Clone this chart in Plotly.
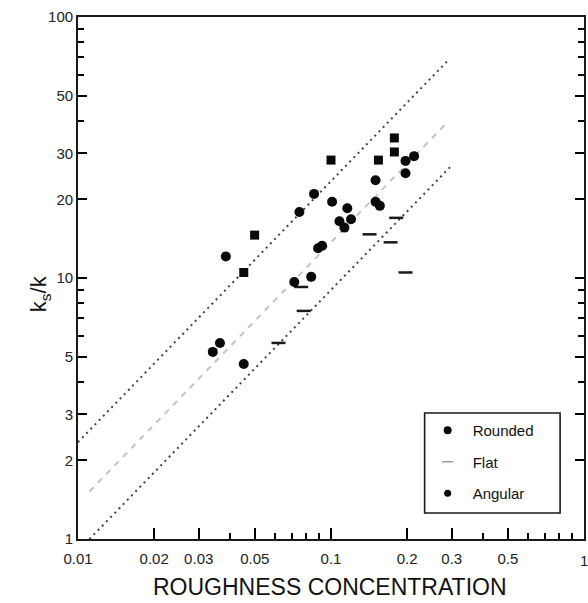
import plotly.graph_objects as go

# ---------------- data ----------------
rounded_x = [0.213, 0.197, 0.197, 0.150, 0.150, 0.156, 0.0857, 0.101, 0.116, 0.120,
             0.108, 0.113, 0.0750, 0.0889, 0.0922, 0.0835, 0.0716, 0.0384, 0.0364,
             0.0341, 0.0452]
rounded_y = [29.3, 28.1, 25.2, 23.7, 19.6, 18.9, 21.0, 19.6, 18.5, 16.8,
             16.5, 15.6, 17.9, 13.0, 13.3, 10.1, 9.65, 12.1, 5.64,
             5.21, 4.68]

angular_x = [0.100, 0.154, 0.178, 0.178, 0.0499, 0.0452]
angular_y = [28.3, 28.3, 34.4, 30.4, 14.6, 10.5]

flat_x = [0.142, 0.172, 0.181, 0.197, 0.0762, 0.078, 0.0620]
flat_y = [14.7, 13.7, 17.0, 10.5, 9.24, 7.48, 5.64]

# reference lines ks/k = c * lambda
line_coef = [235, 137, 90]
line_xmin = [0.0100, 0.0111, 0.0111]
line_xmax = [0.290, 0.290, 0.300]

x_tickvals = [0.01, 0.02, 0.03, 0.05, 0.1, 0.2, 0.3, 0.5, 1]
x_ticktext = ["0.01", "0.02", "0.03", "0.05", "0.1", "0.2", "0.3", "0.5", ""]
x_minor = [0.04, 0.06, 0.07, 0.08, 0.09, 0.4, 0.6, 0.7, 0.8, 0.9]
y_tickvals = [1, 2, 3, 5, 10, 20, 30, 50, 100]
y_ticktext = ["1", "2", "3", "5", "10", "20", "30", "50", "100"]
y_minor = [4, 6, 7, 8, 9, 40, 60, 70, 80, 90]

X_RANGE = [-2, 0]
Y_RANGE = [0, 2]

# ---------------- figure ----------------
W, H = 588, 603
ML, MR, MT, MB = 78, 2, 17, 64
pw, ph = W - ML - MR, H - MT - MB

def px2paper_x(px):
    return (px - ML) / pw

def px2paper_y(py):
    return (H - MB - py) / ph

fig = go.Figure()

line_styles = [dict(color="#444444", width=2, dash="2px,4px"),
               dict(color="#c4c4c4", width=2, dash="6px,6px"),
               dict(color="#444444", width=2, dash="2px,4px")]
for c, x0, x1, st in zip(line_coef, line_xmin, line_xmax, line_styles):
    fig.add_trace(go.Scatter(x=[x0, x1], y=[c * x0, c * x1], mode="lines",
                             line=st, showlegend=False, hoverinfo="skip"))

fig.add_trace(go.Scatter(x=flat_x, y=flat_y, mode="markers", showlegend=False,
                         marker=dict(symbol="line-ew", size=10,
                                     line=dict(width=2.5, color="#1a1a1a"))))
fig.add_trace(go.Scatter(x=rounded_x, y=rounded_y, mode="markers", showlegend=False,
                         marker=dict(symbol="circle", size=10, color="#0a0a0a")))
fig.add_trace(go.Scatter(x=angular_x, y=angular_y, mode="markers", showlegend=False,
                         marker=dict(symbol="square", size=9, color="#0a0a0a")))

# legend entries
fig.add_trace(go.Scatter(x=[None], y=[None], mode="markers", name="Rounded",
                         legendgroup="a",
                         marker=dict(symbol="circle", size=8, color="#0a0a0a")))
fig.add_trace(go.Scatter(x=[None], y=[None], mode="markers", name="Flat",
                         legendgroup="b",
                         marker=dict(symbol="line-ew", size=8,
                                     line=dict(width=1.5, color="#9a9a9a"))))
fig.add_trace(go.Scatter(x=[None], y=[None], mode="markers", name="Angular",
                         legendgroup="c",
                         marker=dict(symbol="circle", size=7, color="#0a0a0a")))

tfont = dict(family="Liberation Sans, Arial, sans-serif", size=15, color="#222222")
axis_common = dict(
    showgrid=False, zeroline=False, showline=True, linecolor="#1a1a1a", linewidth=1.8,
    ticks="inside", tickcolor="#000000", tickwidth=2.2, tickfont=tfont,
)
minor_common = dict(tickmode="array", ticks="inside", ticklen=6, tickwidth=1.8,
                    tickcolor="#000000", showgrid=False)

fig.update_layout(
    xaxis=dict(type="log", range=X_RANGE, tickmode="array",
               tickvals=x_tickvals, ticktext=x_ticktext, ticklen=11, mirror=True,
               ticklabelstandoff=5, minor=dict(tickvals=x_minor, **minor_common),
               **axis_common),
    yaxis=dict(type="log", range=Y_RANGE, tickmode="array",
               tickvals=y_tickvals, ticktext=y_ticktext, ticklen=9, mirror="ticks",
               minor=dict(tickvals=y_minor, **minor_common),
               **axis_common),
)

# legend frame
lx0, ly0, lx1, ly1 = 426, 413, 562, 513
fig.add_shape(type="rect", xref="paper", yref="paper",
              x0=px2paper_x(lx0), x1=px2paper_x(lx1),
              y0=px2paper_y(ly1), y1=px2paper_y(ly0),
              line=dict(color="#1a1a1a", width=1.6), fillcolor="rgba(0,0,0,0)")

fig.update_layout(
    width=W, height=H,
    margin=dict(l=ML, r=MR, t=MT, b=MB, pad=0),
    paper_bgcolor="white", plot_bgcolor="white",
    font=dict(family="Liberation Sans, Arial, sans-serif", color="#111111"),
    legend=dict(x=px2paper_x(lx0 - 2), y=px2paper_y(ly0 + 1), xanchor="left", yanchor="top",
                bgcolor="rgba(0,0,0,0)", borderwidth=0,
                font=dict(size=15, color="#111111"),
                traceorder="grouped", tracegroupgap=9, itemwidth=40),
    annotations=[
        dict(text="k<sub>s</sub>/k", xref="paper", yref="paper",
             x=px2paper_x(40), y=px2paper_y(294), showarrow=False, textangle=-90,
             xanchor="center", yanchor="middle",
             font=dict(size=22, color="#111111")),
        dict(text="ROUGHNESS CONCENTRATION", xref="paper", yref="paper",
             x=px2paper_x(331), y=px2paper_y(587), showarrow=False,
             xanchor="center", yanchor="middle",
             font=dict(size=23, color="#111111")),
        dict(text="1", xref="paper", yref="paper",
             x=1, y=px2paper_y(560), showarrow=False,
             xanchor="center", yanchor="middle", font=tfont),
    ],
)

fig.write_html("out.html")
